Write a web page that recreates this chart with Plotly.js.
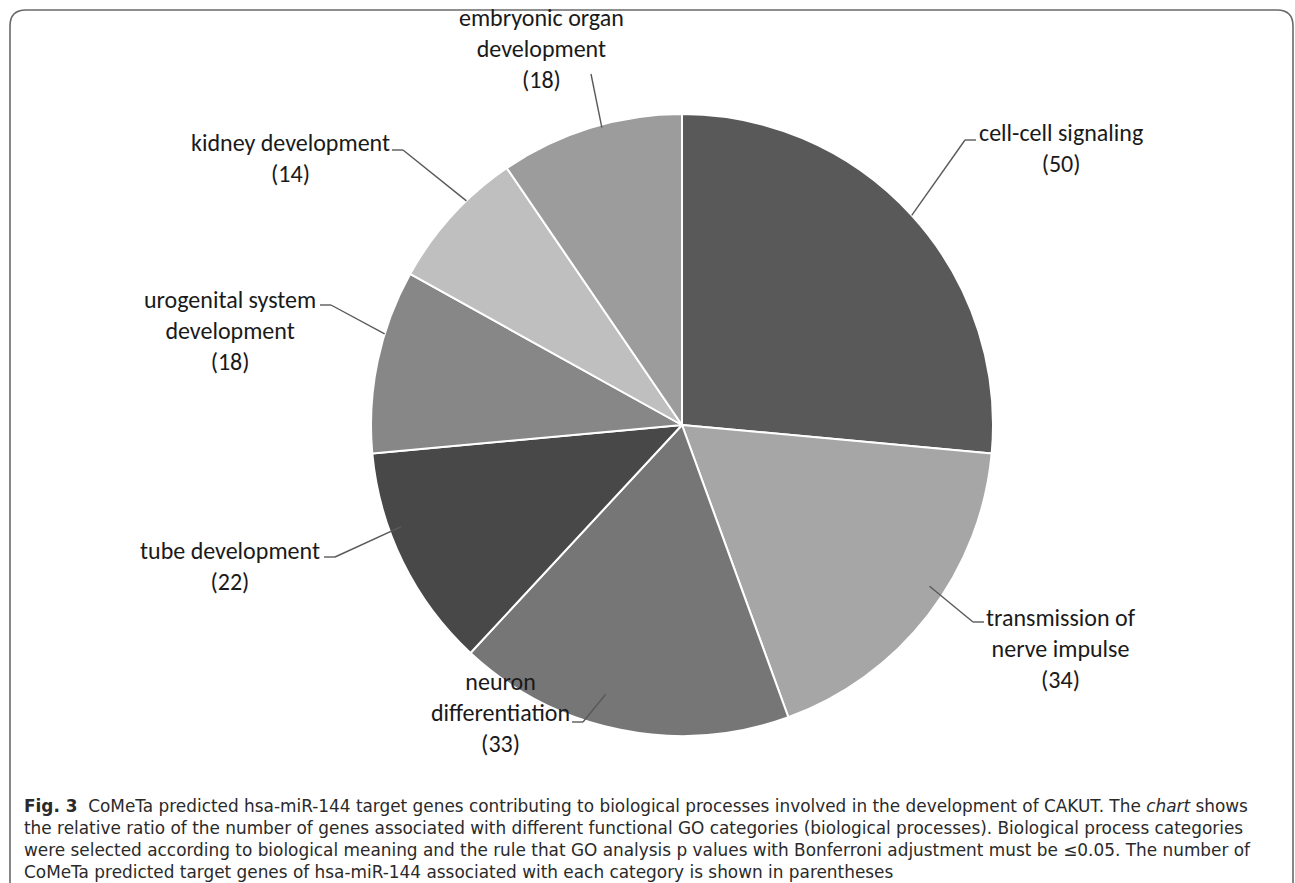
<!DOCTYPE html>
<html>
<head>
<meta charset="utf-8">
<script src="https://cdn.plot.ly/plotly-3.0.1.min.js"></script>
<style>
html,body{margin:0;padding:0;background:#fff;}
#chart{width:1295px;height:883px;}
</style>
</head>
<body>
<div id="chart"></div>
<script>
// ---- data ----
const categories = ["cell-cell signaling", "transmission of nerve impulse", "neuron differentiation",
  "tube development", "urogenital system development", "kidney development", "embryonic organ development"];
const geneCounts = [50, 34, 33, 22, 18, 14, 18];
const labelLines = [
  ["cell-cell signaling"],
  ["transmission of", "nerve impulse"],
  ["neuron", "differentiation"],
  ["tube development"],
  ["urogenital system", "development"],
  ["kidney development"],
  ["embryonic organ", "development"]
];
const sliceColors = ["#595959", "#a6a6a6", "#767676", "#484848", "#878787", "#bfbfbf", "#9c9c9c"];

const captionLines = [
  "<b>Fig. 3</b>  CoMeTa predicted hsa-miR-144 target genes contributing to biological processes involved in the development of CAKUT. The <i>chart</i> shows",
  "the relative ratio of the number of genes associated with different functional GO categories (biological processes). Biological process categories",
  "were selected according to biological meaning and the rule that GO analysis p values with Bonferroni adjustment must be \u22640.05. The number of",
  "CoMeTa predicted target genes of hsa-miR-144 associated with each category is shown in parentheses"
];

// ---- layout constants (pixels) ----
const W = 1295, H = 883;
const CX = 682, CY = 425, R = 311;
// label block centre; leader stub end (sx, sy); stub direction; anchor position within slice (frac) and radius factor (rf)
const labelPos = [
  {x: 1061, y: 148, sx: 976, sy: 140, stub: -1, frac: 0.5, rf: 1.0},
  {x: 1061, y: 648, sx: 984, sy: 622, stub: -1, frac: 0.43, rf: 0.95},
  {x: 500, y: 712, sx: 572, sy: 722, stub: 1, frac: 0.57, rf: 0.9},
  {x: 230, y: 566, sx: 324, sy: 557, stub: 1, frac: 0.65, rf: 0.96},
  {x: 230, y: 330, sx: 320, sy: 305, stub: 1, frac: 0.65, rf: 1.0},
  {x: 290, y: 158, sx: 392, sy: 150, stub: 1, frac: 0.64, rf: 1.0},
  {x: 541, y: 48, sx: 591, sy: 74, stub: 0, frac: 0.56, rf: 0.99}
];

const total = geneCounts.reduce((a, b) => a + b, 0);
const shapes = [];
const annotations = [];

// frame
const fx0 = 10, fy0 = 10, fx1 = 1293, rr = 16;
shapes.push({
  type: "path", xref: "x", yref: "y",
  path: `M${fx0},${H + 5} L${fx0},${fy0 + rr} Q${fx0},${fy0} ${fx0 + rr},${fy0} L${fx1 - rr},${fy0} Q${fx1},${fy0} ${fx1},${fy0 + rr} L${fx1},${H + 5}`,
  line: {color: "#6a6a6a", width: 1.6}
});

let cum = 0;
geneCounts.forEach((v, i) => {
  const p = labelPos[i];
  const ang = (cum + v * p.frac) / total * 2 * Math.PI; // clockwise from top
  cum += v;
  const ax = CX + R * p.rf * Math.sin(ang);
  const ay = CY - R * p.rf * Math.cos(ang);
  const stubLen = 11;
  const sx2 = p.sx + p.stub * stubLen;
  shapes.push({type: "line", xref: "x", yref: "y", x0: ax, y0: ay, x1: sx2, y1: p.sy,
    line: {color: "#595959", width: 1.4}});
  if (p.stub !== 0) {
    shapes.push({type: "line", xref: "x", yref: "y", x0: sx2, y0: p.sy, x1: p.sx, y1: p.sy,
      line: {color: "#595959", width: 1.4}});
  }
  const txt = labelLines[i].concat(["(" + v + ")"]).join("<br>");
  annotations.push({
    xref: "x", yref: "y", x: p.x, y: p.y, text: txt, showarrow: false,
    xanchor: "center", yanchor: "middle", align: "center",
    font: {family: "Carlito, Lato, 'Open Sans', sans-serif", size: 24, color: "#1a1a1a"}
  });
});

captionLines.forEach((t, i) => {
  annotations.push({
    xref: "x", yref: "y", x: 22, y: 806 + i * 22, text: t, showarrow: false,
    xanchor: "left", yanchor: "middle", align: "left",
    font: {family: "'DejaVu Sans', 'Open Sans', sans-serif", size: 16.9, color: "#2a2a2a"}
  });
});

const trace = {
  type: "pie",
  labels: categories,
  values: geneCounts,
  sort: false,
  direction: "clockwise",
  rotation: 0,
  textinfo: "none",
  hoverinfo: "label+value",
  marker: {colors: sliceColors, line: {color: "#ffffff", width: 2}},
  domain: {x: [(CX - R) / W, (CX + R) / W], y: [1 - (CY + R) / H, 1 - (CY - R) / H]},
  showlegend: false
};

const layout = {
  width: W, height: H,
  margin: {l: 0, r: 0, t: 0, b: 0},
  paper_bgcolor: "#ffffff", plot_bgcolor: "rgba(0,0,0,0)",
  xaxis: {range: [0, W], visible: false, fixedrange: true},
  yaxis: {range: [H, 0], visible: false, fixedrange: true},
  shapes: shapes,
  annotations: annotations,
  showlegend: false
};

Plotly.newPlot("chart", [trace], layout, {displayModeBar: false, staticPlot: true});
</script>
</body>
</html>
